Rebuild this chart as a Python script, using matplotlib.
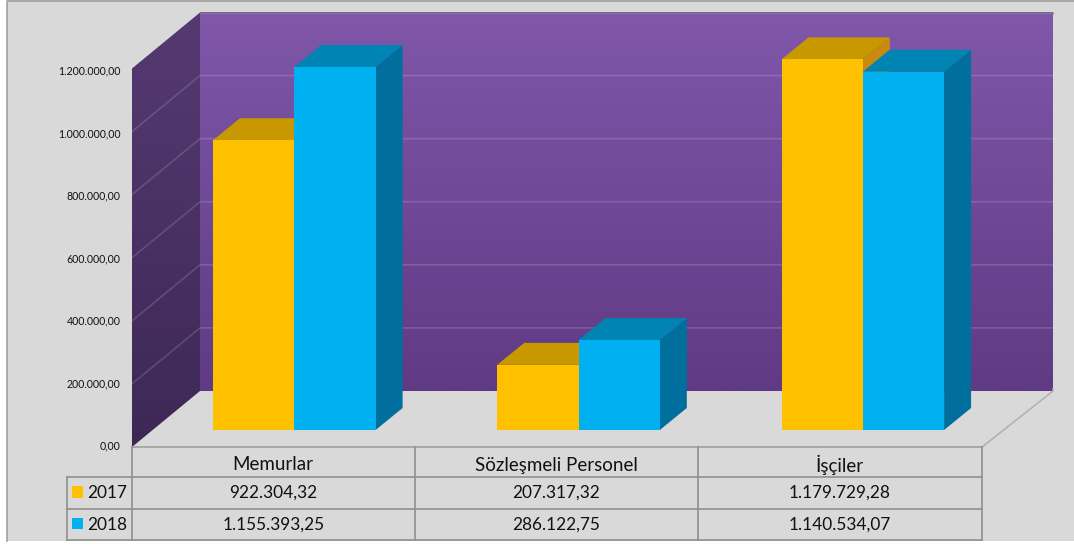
import numpy as np
import matplotlib
matplotlib.use('Agg')
import matplotlib.pyplot as plt
from matplotlib.patches import Polygon, Rectangle

categories = ['Memurlar', 'Sözleşmeli Personel', 'İşçiler']
years = ['2017', '2018']
values_2017 = [922304.32, 207317.32, 1179729.28]
values_2018 = [1155393.25, 286122.75, 1140534.07]
labels_2017 = ['922.304,32', '207.317,32', '1.179.729,28']
labels_2018 = ['1.155.393,25', '286.122,75', '1.140.534,07']
ticks = [0, 200000, 400000, 600000, 800000, 1000000, 1200000]
tick_labels = ['0,00', '200.000,00', '400.000,00', '600.000,00',
               '800.000,00', '1.000.000,00', '1.200.000,00']

plt.rcParams['font.family'] = ['Lato', 'DejaVu Sans']

BG = '#d9d9d9'
LINE = '#8f8f8f'
YEL = ('#ffc000', '#c89800', '#c98a10')
BLU = ('#00b0f0', '#0084b4', '#006f9e')

fig = plt.figure(figsize=(10.74, 5.45), dpi=100)
# whole figure is one axes in pixel coords, y pointing down
ax = fig.add_axes([0, 0, 1, 1])
ax.set_xlim(0, 1074)
ax.set_ylim(545, 0)
ax.axis('off')

ax.add_patch(Rectangle((7, 0), 1067, 541, fc=BG, ec='none', zorder=0))
ax.plot([7, 7, 1074], [541, 1, 1], color='#a0a0a0', lw=1.2, zorder=1)

# geometry of the fake 3D box
x_front, y_front = 132, 447
x_back, y_back, x_right = 200, 391, 1053
scale = 378.5 / 1200000
dx_wall, dy_wall = x_back - x_front, y_back - y_front


def front_y(v):
    return y_front - v * scale


# back wall gradient
grad = np.linspace(0, 1, 256)[:, None]
top_c = np.array([0x80, 0x57, 0xaa]) / 255
bot_c = np.array([0x60, 0x3a, 0x84]) / 255
img = (top_c[None, None, :] * (1 - grad[..., None]) + bot_c[None, None, :] * grad[..., None])
ax.imshow(img, extent=[x_back, x_right, y_back, y_back - 1200000 * scale],
          aspect='auto', zorder=2, interpolation='bilinear')

# left wall gradient, clipped to its parallelogram
top_c = np.array([0x55, 0x3a, 0x72]) / 255
bot_c = np.array([0x3d, 0x28, 0x55]) / 255
img = (top_c[None, None, :] * (1 - grad[..., None]) + bot_c[None, None, :] * grad[..., None])
im = ax.imshow(img, extent=[x_front, x_back, y_front, front_y(1200000) + dy_wall],
               aspect='auto', zorder=2, interpolation='bilinear')
wall = Polygon([(x_front, front_y(1200000)), (x_back, front_y(1200000) + dy_wall),
                (x_back, y_back), (x_front, y_front)], closed=True, fc='none', ec='none',
               transform=ax.transData)
ax.add_patch(wall)
im.set_clip_path(wall)
ax.set_xlim(0, 1074)
ax.set_ylim(545, 0)

# gridlines
for t in ticks[1:-1]:
    y = front_y(t)
    ax.plot([x_front, x_back, x_right], [y, y + dy_wall, y + dy_wall],
            color='white', alpha=0.15, lw=1.2, zorder=3)
ax.plot([x_back, x_right], [front_y(1200000) + dy_wall] * 2, color='#7a7a8a', lw=1, zorder=3)

# floor outline
ax.plot([x_front, 982, x_right, x_right], [y_front, y_front, y_back, y_back - 2],
        color='#b0b0b0', lw=1.1, zorder=3)

# bars
base = 430
bar_scale = 377 / 1200000
bw = 81.3
bdx, bdy = 27, -22
col_x = [131.5, 415, 698, 982]
group_x = [213, 497.2, 781.5]


def bar(x, v, cols, z):
    top = base - v * bar_scale
    ax.add_patch(Polygon([(x + bw, base), (x + bw + bdx, base + bdy),
                          (x + bw + bdx, top + bdy), (x + bw, top)], fc=cols[2], ec='none', zorder=z))
    ax.add_patch(Polygon([(x, top), (x + bdx, top + bdy), (x + bw + bdx, top + bdy),
                          (x + bw, top)], fc=cols[1], ec='none', zorder=z))
    ax.add_patch(Rectangle((x, top), bw, base - top, fc=cols[0], ec='none', zorder=z))


for i in range(3):
    bar(group_x[i], values_2017[i], YEL, 4)
    bar(group_x[i] + bw, values_2018[i], BLU, 5)

# y tick labels sit on a slightly tighter spacing than the axis
label_scale = 375 / 1200000
for t, lab in zip(ticks, tick_labels):
    ax.text(120.5, 446 - t * label_scale, lab, ha='right', va='center', fontsize=7.6, color='#111111')

# data table
ax.plot([131.5, 982], [447, 447], color='#a8a8a8', lw=1.4, zorder=6)
for x in col_x:
    ax.plot([x, x], [447, 540], color=LINE, lw=1.2, zorder=6)
for y in [477, 509, 540]:
    ax.plot([67, 982], [y, y], color=LINE, lw=1.2, zorder=6)
ax.plot([67, 67], [477, 540], color=LINE, lw=1.2, zorder=6)

for i, cat in enumerate(categories):
    cx = (col_x[i] + col_x[i + 1]) / 2
    ax.text(cx, 465, cat, ha='center', va='center', fontsize=13.5, color='#111111')
    ax.text(cx, 493, labels_2017[i], ha='center', va='center', fontsize=12.4, color='#111111')
    ax.text(cx, 524.5, labels_2018[i], ha='center', va='center', fontsize=12.4, color='#111111')

for y, yr, c in zip([493, 524.5], years, [YEL[0], BLU[0]]):
    ax.add_patch(Rectangle((72, y - 7), 11, 11.5, fc=c, ec='none', zorder=6))
    ax.text(107, y, yr, ha='center', va='center', fontsize=12.4, color='#111111')

fig.savefig('out.png', dpi=100)
